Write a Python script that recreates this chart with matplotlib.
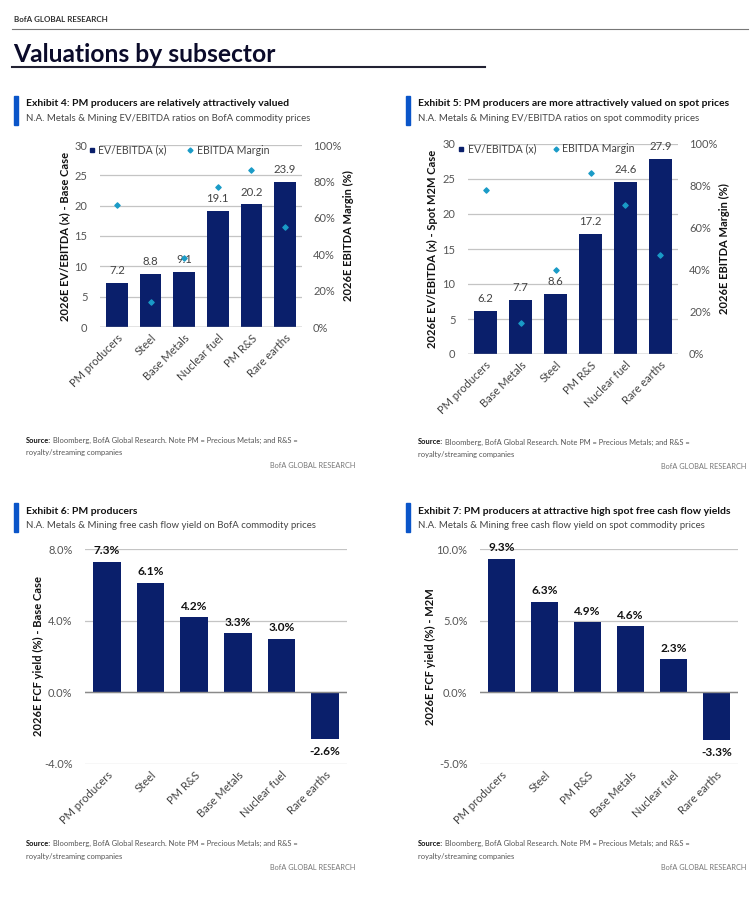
#!/usr/bin/env python3
"""Valuations by subsector - four BofA exhibits on one page."""

import matplotlib
matplotlib.use('Agg')
import matplotlib.pyplot as plt
from matplotlib.lines import Line2D

plt.rcParams['font.family'] = ['Lato', 'DejaVu Sans']

W, H = 750, 900

NAVY = '#0a1f6b'
TEAL = '#1a9bc7'
ACCENT = '#0a55c9'
GRID = '#c4c4c4'

# Exhibit 4 - base case EV/EBITDA
ex4_cats = ['PM producers', 'Steel', 'Base Metals', 'Nuclear fuel', 'PM R&S', 'Rare earths']
ex4_ev = [7.2, 8.8, 9.1, 19.1, 20.2, 23.9]
ex4_margin = [67, 14, 38, 77, 86, 55]

# Exhibit 5 - spot EV/EBITDA
ex5_cats = ['PM producers', 'Base Metals', 'Steel', 'PM R&S', 'Nuclear fuel', 'Rare earths']
ex5_ev = [6.2, 7.7, 8.6, 17.2, 24.6, 27.9]
ex5_margin = [78, 15, 40, 86, 71, 47]

# Exhibit 6 / 7 - FCF yields
fcf_cats = ['PM producers', 'Steel', 'PM R&S', 'Base Metals', 'Nuclear fuel', 'Rare earths']
ex6_fcf = [7.3, 6.1, 4.2, 3.3, 3.0, -2.6]
ex7_fcf = [9.3, 6.3, 4.9, 4.6, 2.3, -3.3]

SOURCE = 'Bloomberg, BofA Global Research. Note PM = Precious Metals; and R&S ='
SOURCE2 = 'royalty/streaming companies'

fig = plt.figure(figsize=(W / 100, H / 100), dpi=100)


def fx(x):
    return x / W


def fy(y):
    return 1 - y / H


def px_axes(x0, y0, x1, y1):
    return fig.add_axes([fx(x0), fy(y1), fx(x1 - x0), (y1 - y0) / H])


def header_block(x, y, title, subtitle):
    fig.add_artist(plt.Rectangle((fx(x), fy(y + 29)), fx(4), 29 / H,
                                 color=ACCENT, transform=fig.transFigure))
    fig.text(fx(x + 12), fy(y + 8), title, fontsize=7.5, fontweight='bold',
             color='#111111', va='center')
    fig.text(fx(x + 12), fy(y + 22), subtitle, fontsize=6.9, color='#444444',
             va='center')


def source_block(x, y, xr):
    t = fig.text(fx(x), fy(y), 'Source:', fontsize=5.4, fontweight='bold',
                 color='#111111', va='center')
    fig.canvas.draw()
    bb = t.get_window_extent()
    fig.text(bb.x1 / W + fx(2), fy(y), SOURCE, fontsize=5.4, color='#555555',
             va='center')
    fig.text(fx(x), fy(y + 13), SOURCE2, fontsize=5.4, color='#555555', va='center')
    fig.text(fx(xr), fy(y + 25), 'BofA GLOBAL RESEARCH', fontsize=5.3,
             color='#777777', va='center', ha='right')


def style_axes(ax):
    for s in ax.spines.values():
        s.set_visible(False)
    ax.tick_params(length=0, colors='#555555', labelsize=8)
    ax.tick_params(axis='y', pad=9)
    ax.set_axisbelow(True)
    ax.grid(axis='y', color=GRID, linewidth=0.9)


def ev_chart(box, cats, ev, margin, ylabel, legend_xy, colspace):
    ax = px_axes(*box)
    x = range(len(cats))
    ax.bar(x, ev, width=0.65, color=NAVY, zorder=2)
    ax.set_ylim(0, 30)
    ax.set_yticks(range(0, 31, 5))
    ax.set_xlim(-0.5, len(cats) - 0.5)
    style_axes(ax)
    ax.axhline(0, color='#9a9a9a', linewidth=1.0, zorder=3)
    ax.set_xticks(list(x))
    ax.set_xticklabels(cats, rotation=45, ha='right', rotation_mode='anchor',
                       fontsize=8, color='#444444')
    ax.tick_params(axis='x', pad=4)
    for i, v in enumerate(ev):
        ax.annotate(f'{v:.1f}', (i, v), xytext=(0, 5), textcoords='offset points',
                    ha='center', va='bottom', fontsize=8.2, color='#444444')
    ax.set_ylabel(ylabel, fontsize=8, fontweight='bold', color='#111111', labelpad=3)

    ax2 = ax.twinx()
    ax2.scatter(list(x), margin, marker='D', s=7, color=TEAL, zorder=4)
    ax2.set_ylim(0, 100)
    ax2.set_yticks(range(0, 101, 20))
    ax2.set_yticklabels([f'{t}%' for t in range(0, 101, 20)])
    for s in ax2.spines.values():
        s.set_visible(False)
    ax2.tick_params(length=0, colors='#555555', labelsize=8, pad=8)
    ax2.set_ylabel('2026E EBITDA Margin (%)', fontsize=8, fontweight='bold',
                   color='#111111', labelpad=1)

    handles = [Line2D([], [], marker='s', linestyle='none', color=NAVY, markersize=3.5),
               Line2D([], [], marker='D', linestyle='none', color=TEAL, markersize=2.5)]
    leg = ax.legend(handles, ['EV/EBITDA (x)', 'EBITDA Margin'], ncol=2, frameon=False,
                    loc='center left', bbox_to_anchor=(fx(legend_xy[0]), fy(legend_xy[1])),
                    bbox_transform=fig.transFigure, fontsize=7.6, handlelength=0.6,
                    handletextpad=0.3, columnspacing=colspace, borderpad=0,
                    borderaxespad=0)
    for t in leg.get_texts():
        t.set_color('#444444')
    leg.set_zorder(5)
    return ax


def fcf_chart(box, cats, vals, lim, step, ylabel):
    ax = px_axes(*box)
    x = range(len(cats))
    ax.bar(x, vals, width=0.64, color=NAVY, zorder=2)
    ax.set_ylim(*lim)
    ticks = [lim[0] + step * k for k in range(int((lim[1] - lim[0]) / step) + 1)]
    ax.set_yticks(ticks)
    ax.set_yticklabels([f'{t:.1f}%' for t in ticks])
    ax.set_xlim(-0.5, len(cats) - 0.5)
    style_axes(ax)
    ax.axhline(0, color='#8a8a8a', linewidth=1.0, zorder=3)
    ax.set_xticks(list(x))
    ax.set_xticklabels(cats, rotation=45, ha='right', rotation_mode='anchor',
                       fontsize=8, color='#444444')
    ax.tick_params(axis='x', pad=4)
    for i, v in enumerate(vals):
        off = 4 if v >= 0 else -5
        ax.annotate(f'{v:.1f}%', (i, v), xytext=(0, off), textcoords='offset points',
                    ha='center', va='bottom' if v >= 0 else 'top', fontsize=8.6,
                    fontweight='bold', color='#111111')
    ax.set_ylabel(ylabel, fontsize=8, fontweight='bold', color='#111111', labelpad=0)
    return ax


# Page header
fig.text(fx(14), fy(20), 'BofA GLOBAL RESEARCH', fontsize=5.8, fontweight='bold',
         color='#333333', va='center')
fig.add_artist(Line2D([fx(12), fx(748)], [fy(29), fy(29)], color='#777777',
                      linewidth=0.8, transform=fig.transFigure))
fig.text(fx(13), fy(54), 'Valuations by subsector', fontsize=17.7, fontweight='bold',
         color='#0b0b2a', va='center')
fig.add_artist(Line2D([fx(12), fx(485)], [fy(67), fy(67)], color='#222233',
                      linewidth=1.5, transform=fig.transFigure))

# Exhibit headers
header_block(14, 96, 'Exhibit 4: PM producers are relatively attractively valued',
             'N.A. Metals & Mining EV/EBITDA ratios on BofA commodity prices')
header_block(406, 96, 'Exhibit 5: PM producers are more attractively valued on spot prices',
             'N.A. Metals & Mining EV/EBITDA ratios on spot commodity prices')
header_block(14, 503, 'Exhibit 6: PM producers',
             'N.A. Metals & Mining free cash flow yield on BofA commodity prices')
header_block(406, 503, 'Exhibit 7: PM producers at attractive high spot free cash flow yields',
             'N.A. Metals & Mining free cash flow yield on spot commodity prices')

ev_chart((100, 145, 302, 327), ex4_cats, ex4_ev, ex4_margin,
         '2026E EV/EBITDA (x) - Base Case', (89, 150), 1.9)
ev_chart((468, 144, 678, 354), ex5_cats, ex5_ev, ex5_margin,
         '2026E EV/EBITDA (x) - Spot M2M Case', (458, 149), 1.6)

fcf_chart((85, 549, 347, 764), fcf_cats, ex6_fcf, (-4, 8), 4,
          '2026E FCF yield (%) - Base Case')
fcf_chart((480, 549, 738, 764), fcf_cats, ex7_fcf, (-5, 10), 5,
          '2026E FCF yield (%) - M2M')

source_block(26, 440, 355)
source_block(418, 442, 746)
source_block(26, 843, 355)
source_block(418, 843, 746)

fig.savefig('out.png', dpi=100)
